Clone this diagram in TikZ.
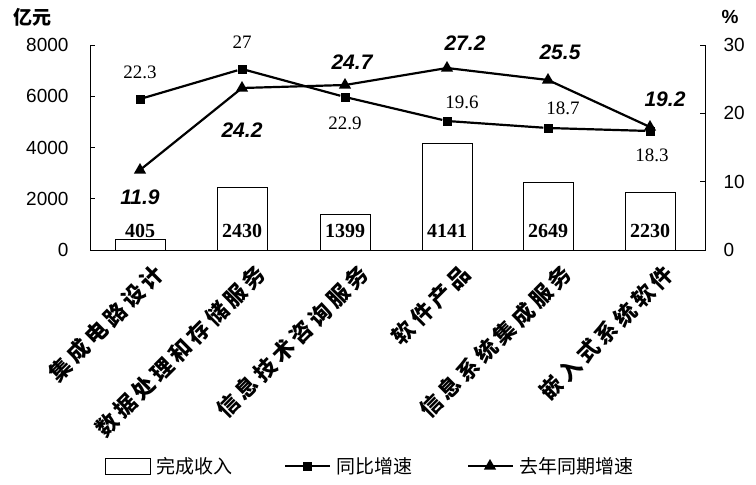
\documentclass[tikz,border=0pt]{standalone}
\usepackage{fontspec}
\usetikzlibrary{shapes.geometric}
\setmainfont{Liberation Serif}
\newfontfamily\cjk{Noto Sans CJK SC}
\newfontfamily\cjksp[LetterSpace=18]{Noto Sans CJK SC}
\newfontfamily\lsans{Liberation Sans}
\begin{document}
\begin{tikzpicture}[x=1pt,y=-1pt,
  bar/.style={draw,line width=1pt,fill=white},
  barlbl/.style={font=\fontsize{20}{20}\selectfont\bfseries},
  sqlbl/.style={font=\fontsize{19}{19}\selectfont},
  trlbl/.style={font=\lsans\fontsize{21}{21}\selectfont\bfseries\itshape},
  axlbl/.style={font=\lsans\fontsize{19}{19}\selectfont},
  cat/.style={font=\cjksp\fontsize{22}{22}\selectfont\bfseries,rotate=45,anchor=north east,inner sep=0pt},
  lg/.style={font=\cjk\fontsize{19}{19}\selectfont,anchor=west},
  ln/.style={line width=2.2pt},
  sq/.style={fill=black,minimum size=9pt,inner sep=0pt},
  tri/.style={fill=black,regular polygon,regular polygon sides=3,minimum size=14pt,inner sep=0pt}]
\useasboundingbox (0,0) rectangle (756,485);
% axes
\draw[line width=1pt] (90,45) -- (90,250) -- (705,250) -- (705,45);
\foreach \y/\t in {250/0,198.75/2000,147.5/4000,96.25/6000,45/8000}{
  \draw[line width=0.8pt] (90,\y) -- (95,\y);
  \node[axlbl,anchor=east] at (72,\y) {\t};}
\foreach \y/\t in {250/0,181.7/10,113.3/20,45/30}{
  \draw[line width=0.8pt] (705,\y) -- (700,\y);
  \node[axlbl,anchor=west] at (720,\y) {\t};}
\node[font=\cjk\fontsize{19}{19}\selectfont\bfseries] at (32,17) {亿元};
\node[font=\lsans\fontsize{19}{19}\selectfont\bfseries] at (730,17) {\%};
% bars
\foreach \x/\h/\v/\n in {140/10.4/405/b1,242/62.3/2430/b2,345/35.8/1399/b3,447/106.1/4141/b4,548/67.9/2649/b5,650/57.1/2230/b6}{
  \draw[bar] (\x-25,250) rectangle (\x+25,250-\h);
  \node[barlbl,fill=white,inner sep=1pt] (\n) at (\x,231) {\v};}
% square line
\foreach \x/\y/\n in {140/99/s1,242/69/s2,345/97/s3,447/121/s4,548/128/s5,650/131/s6}
  \node[sq] (\n) at (\x,\y) {};
\draw[ln] (s1)--(s2)--(s3)--(s4)--(s5)--(s6);
% triangle line
\foreach \x/\y/\n in {140/170/t1,242/88/t2,345/85/t3,447/68/t4,548/80/t5,650/127/t6}
  \node[tri] (\n) at (\x,\y) {};
\draw[ln] (t1.center)--(t2.center)--(t3.center)--(t4.center)--(t5.center)--(t6.center);
% labels
\node[sqlbl] at (140,72) {22.3};
\node[sqlbl] at (242,42) {27};
\node[sqlbl] at (345,123) {22.9};
\node[sqlbl] at (462,102) {19.6};
\node[sqlbl] at (563,108) {18.7};
\node[sqlbl] at (652,155) {18.3};
\node[trlbl] at (140,197) {11.9};
\node[trlbl] at (242,130) {24.2};
\node[trlbl] at (352,62) {24.7};
\node[trlbl] at (465,43) {27.2};
\node[trlbl] at (560,52) {25.5};
\node[trlbl] at (665,99) {19.2};
% categories
\node[cat] at (152,262) {集成电路设计};
\node[cat] at (254,262) {数据处理和存储服务};
\node[cat] at (357,262) {信息技术咨询服务};
\node[cat] at (459,262) {软件产品};
\node[cat] at (560,262) {信息系统集成服务};
\node[cat] at (662,262) {嵌入式系统软件};
% legend
\draw[line width=1pt] (105,458) rectangle (150,474);
\node[lg] at (153,466) {完成收入};
\draw[ln] (285,466) -- (330,466);
\node[sq] (ls) at (307,466) {};
\node[lg] at (333,466) {同比增速};
\draw[ln] (468,466) -- (513,466);
\node[tri] (lt) at (490,466) {};
\node[lg] at (516,466) {去年同期增速};
\end{tikzpicture}
\end{document}
